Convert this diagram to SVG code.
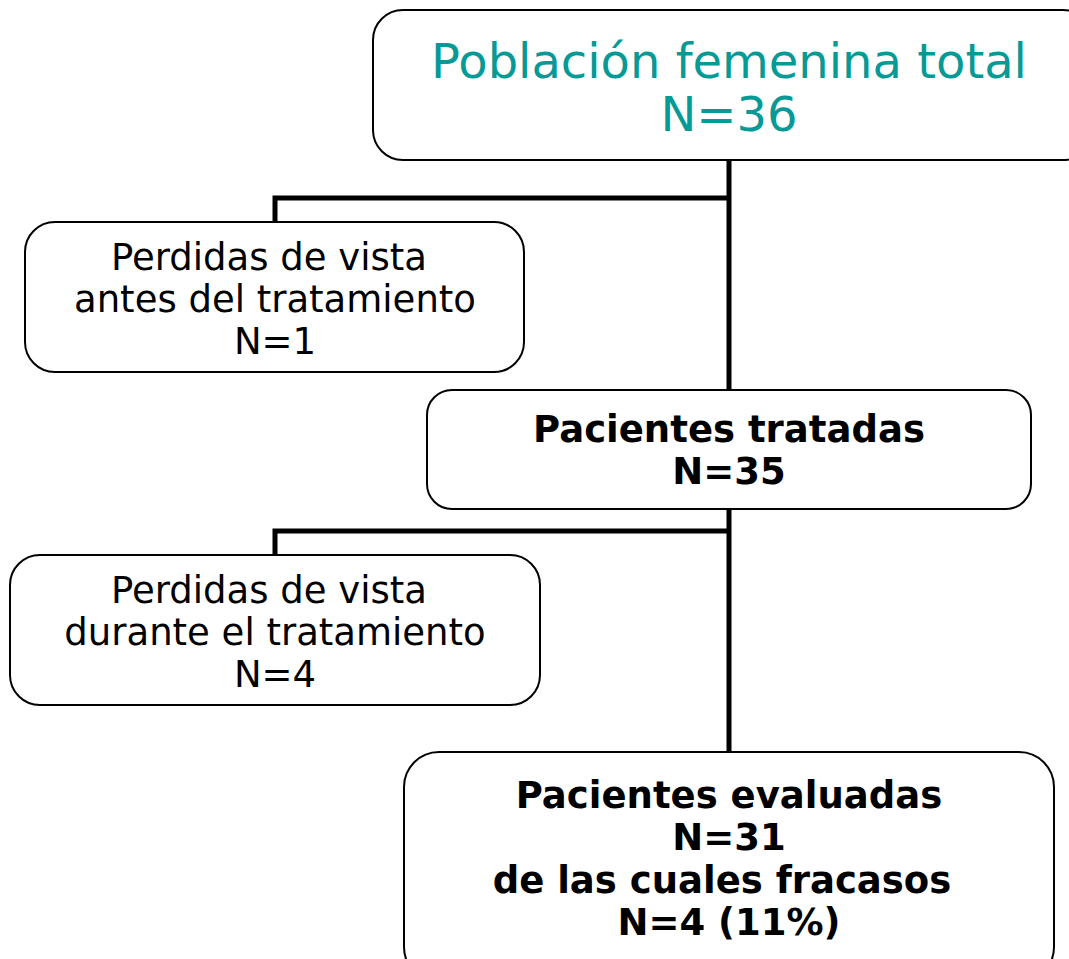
<svg xmlns="http://www.w3.org/2000/svg" width="1069" height="959" viewBox="0 0 1069 959">
<style>
.box{fill:#fff;stroke:#000;stroke-width:2}
.t{font-family:"DejaVu Sans",Verdana,sans-serif;text-anchor:middle;fill:#000}
.n{font-size:37px}
.b{font-size:37px;font-weight:bold}
.top{font-size:48px;fill:#069a96}
.c{fill:none;stroke:#000;stroke-width:5}
</style>
<rect width="1069" height="959" fill="#fff"/>
<g id="connectors">
<polyline class="c" points="729,160 729,390"/>
<polyline class="c" points="729,198 275,198 275,222"/>
<polyline class="c" points="729,509 729,752"/>
<polyline class="c" points="729,531 275,531 275,555"/>
</g>
<g id="n1">
<rect class="box" x="373" y="10" width="720" height="150" rx="30"/>
<text class="t top" x="729" y="78">Población femenina total</text>
<text class="t top" x="729" y="131">N=36</text>
</g>
<g id="n2">
<rect class="box" x="25" y="222" width="499" height="150" rx="30"/>
<text class="t n" x="269" y="270">Perdidas de vista</text>
<text class="t n" x="275" y="312">antes del tratamiento</text>
<text class="t n" x="275" y="354">N=1</text>
</g>
<g id="n3">
<rect class="box" x="427" y="390" width="604" height="119" rx="25"/>
<text class="t b" x="729" y="442">Pacientes tratadas</text>
<text class="t b" x="729" y="484">N=35</text>
</g>
<g id="n4">
<rect class="box" x="10" y="555" width="530" height="150" rx="30"/>
<text class="t n" x="269" y="603">Perdidas de vista</text>
<text class="t n" x="275" y="645">durante el tratamiento</text>
<text class="t n" x="275" y="687">N=4</text>
</g>
<g id="n5">
<rect class="box" x="404" y="752" width="650" height="230" rx="35"/>
<text class="t b" x="729" y="808">Pacientes evaluadas</text>
<text class="t b" x="729" y="850">N=31</text>
<text class="t b" x="722" y="893">de las cuales fracasos</text>
<text class="t b" x="729" y="935">N=4 (11%)</text>
</g>
</svg>
